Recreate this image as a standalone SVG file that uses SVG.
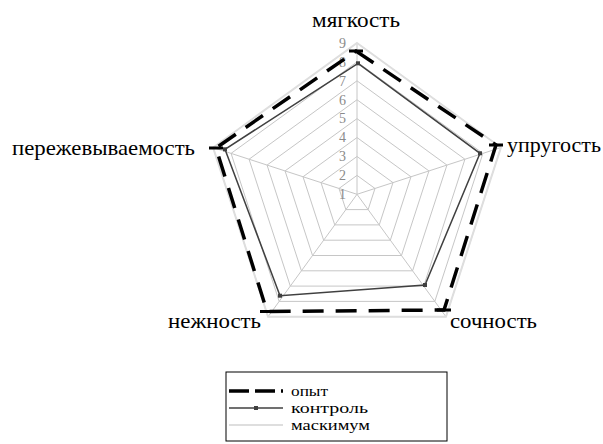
<svg xmlns="http://www.w3.org/2000/svg" width="603" height="444" viewBox="0 0 603 444">
<style>
text{font-family:"Liberation Serif","Times New Roman",serif}
.grid{fill:none;stroke:#c6c6c6;stroke-width:1}
.tick{font-size:14px;fill:#8a8a8a;text-anchor:end}
.lab{font-size:21px;fill:#000}
.leg{font-size:15px;fill:#000}
.max{fill:none;stroke:#dedede;stroke-width:2}
.ctl{fill:none;stroke:#404040;stroke-width:1.5}
.op{fill:none;stroke:#000;stroke-width:3.5;stroke-dasharray:21 12}
</style>
<rect width="603" height="444" fill="#fff"/>
<g id="grid" transform="translate(357,194.3)">
<polygon class="grid" points="0,-18.91 17.99,-5.84 11.12,15.3 -11.12,15.3 -17.99,-5.84"/>
<polygon class="grid" points="0,-37.83 35.98,-11.69 22.24,30.6 -22.24,30.6 -35.98,-11.69"/>
<polygon class="grid" points="0,-56.74 53.97,-17.53 33.35,45.9 -33.35,45.9 -53.97,-17.53"/>
<polygon class="grid" points="0,-75.65 71.95,-23.38 44.47,61.2 -44.47,61.2 -71.95,-23.38"/>
<polygon class="grid" points="0,-94.56 89.94,-29.22 55.58,76.5 -55.58,76.5 -89.94,-29.22"/>
<polygon class="grid" points="0,-113.48 107.93,-35.07 66.7,91.8 -66.7,91.8 -107.93,-35.07"/>
<polygon class="grid" points="0,-132.39 125.92,-40.91 77.82,107.1 -77.82,107.1 -125.92,-40.91"/>
<polygon class="grid" points="0,-151.3 143.9,-46.75 88.93,122.4 -88.93,122.4 -143.9,-46.75"/>
<path class="grid" d="M0,0V-151.3M0,0L143.9,-46.75M0,0L88.93,122.4M0,0L-88.93,122.4M0,0L-143.9,-46.75"/>
</g>
<g id="ticks">
<text class="tick" x="346" y="199">1</text>
<text class="tick" x="346" y="180">2</text>
<text class="tick" x="346" y="161">3</text>
<text class="tick" x="346" y="142">4</text>
<text class="tick" x="346" y="123">5</text>
<text class="tick" x="346" y="105">6</text>
<text class="tick" x="346" y="86">7</text>
<text class="tick" x="346" y="67">8</text>
<text class="tick" x="346" y="48">9</text>
</g>
<g id="connectors">
<polygon id="series-max" class="max" points="357,43 500.9,147.55 445.93,316.7 268.07,316.7 213.1,147.55"/>
<polygon id="series-control" class="ctl" points="358,63.3 480,153.3 425,285 280,295.7 225,149.3"/>
<polygon id="series-opyt" class="op" points="356,51 496,145 444,310 267,311.5 216,148"/>
</g>
<g id="markers">
<g fill="#404040">
<rect x="356" y="61.3" width="4" height="4"/>
<rect x="478" y="151.3" width="4" height="4"/>
<rect x="423" y="283" width="4" height="4"/>
<rect x="278" y="293.7" width="4" height="4"/>
<rect x="223" y="147.3" width="4" height="4"/>
</g>
<g fill="#000">
<rect x="349" y="49.5" width="14" height="3"/>
<rect x="489" y="143.5" width="14" height="3"/>
<rect x="437" y="308.5" width="14" height="3"/>
<rect x="260" y="310" width="14" height="3"/>
<rect x="209" y="146.5" width="14" height="3"/>
</g>
</g>
<g id="node-myagkost"><text class="lab" x="312" y="27" textLength="88" lengthAdjust="spacingAndGlyphs">мягкость</text></g>
<g id="node-uprugost"><text class="lab" x="507" y="152" textLength="94" lengthAdjust="spacingAndGlyphs">упругость</text></g>
<g id="node-sochnost"><text class="lab" x="450" y="328" textLength="87" lengthAdjust="spacingAndGlyphs">сочность</text></g>
<g id="node-nezhnost"><text class="lab" x="168" y="328" textLength="93" lengthAdjust="spacingAndGlyphs">нежность</text></g>
<g id="node-perezhevyvaemost"><text class="lab" x="12" y="155" textLength="183" lengthAdjust="spacingAndGlyphs">пережевываемость</text></g>
<g id="legend">
<rect x="226" y="372" width="221" height="69" fill="#fff" stroke="#000" stroke-width="1"/>
<line x1="229" y1="391" x2="283" y2="391" stroke="#000" stroke-width="3.5" stroke-dasharray="20 6"/>
<line x1="229" y1="408" x2="283" y2="408" stroke="#404040" stroke-width="1.5"/>
<rect x="254" y="406" width="4" height="4" fill="#404040"/>
<line x1="229" y1="425" x2="283" y2="425" stroke="#dedede" stroke-width="2"/>
<text class="leg" x="291" y="396" textLength="37" lengthAdjust="spacingAndGlyphs">опыт</text>
<text class="leg" x="291" y="413" textLength="77" lengthAdjust="spacingAndGlyphs">контроль</text>
<text class="leg" x="291" y="430" textLength="79" lengthAdjust="spacingAndGlyphs">маскимум</text>
</g>
</svg>
